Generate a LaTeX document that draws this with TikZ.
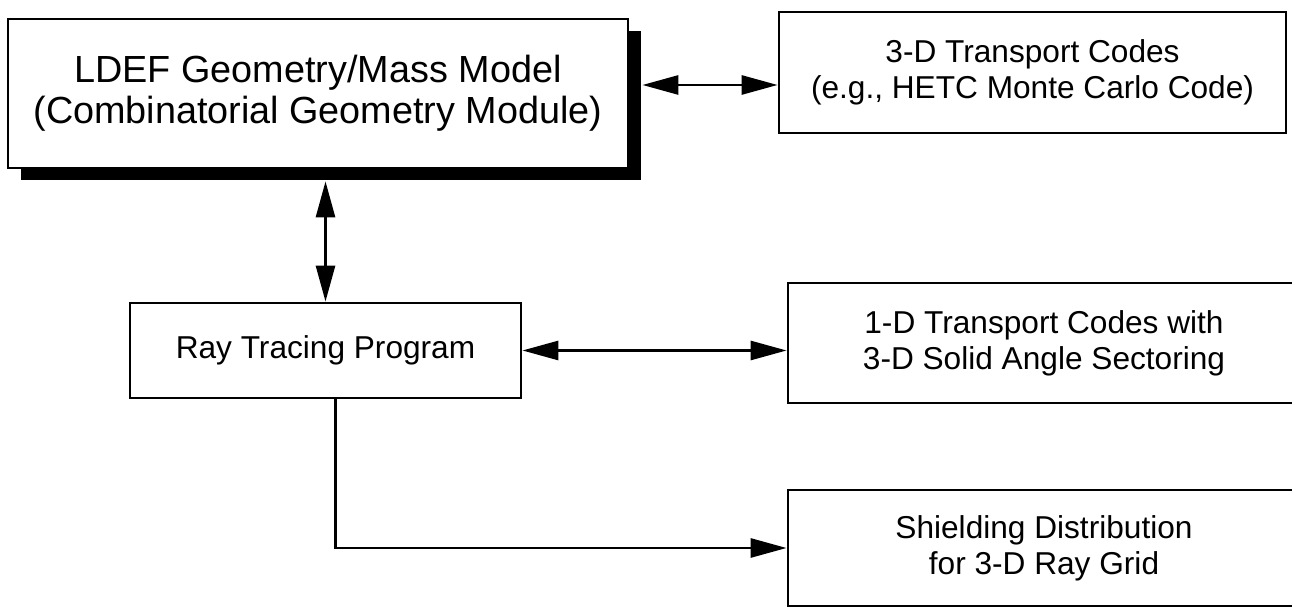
\documentclass[tikz,border=0pt]{standalone}
\usepackage{fontspec}
\setmainfont{Liberation Sans}
\usetikzlibrary{arrows.meta,shadows,positioning}

\begin{document}
\begin{tikzpicture}
    \tikzstyle{every node} = [font=\fontsize{18}{20.5}\selectfont]
    \tikzstyle{block} = [draw, rectangle, line width=1.6pt, align=center, inner sep=0pt]
    \tikzstyle{link} = [line width=1.6pt, -{Triangle[length=0.72cm,width=0.38cm]}]
    \tikzstyle{both} = [line width=1.6pt, {Triangle[length=0.72cm,width=0.38cm]}-{Triangle[length=0.72cm,width=0.38cm]}]
    \useasboundingbox (0,0) rectangle (25.84,12.28);
    % place nodes
    \node[block, minimum width=12.4cm, minimum height=2.98cm, font=\fontsize{21.5}{23.5}\selectfont, fill=white,
      drop shadow={shadow xshift=0.26cm, shadow yshift=-0.24cm, fill=black, opacity=1}](ldef) at (6.36,10.41){LDEF Geometry/Mass Model\\(Combinatorial Geometry Module)};
    \node[block, minimum width=10.14cm, minimum height=2.42cm](transport3d) at (20.65,10.83){3-D Transport Codes\\(e.g., HETC Monte Carlo Code)};
    \node[block, minimum width=7.82cm, minimum height=1.9cm](rayTracing) at (6.51,5.27){Ray Tracing Program};
    \node[block, minimum width=10.24cm, minimum height=2.4cm](oned) at (20.88,5.42){1-D Transport Codes with\\3-D Solid Angle Sectoring};
    \node[block, below of=oned, node distance=4.1cm, minimum width=10.24cm, minimum height=2.32cm](shield){Shielding Distribution\\for 3-D Ray Grid};

    % Connections
    \coordinate (ldefport) at ([shift={(0.26,0.17)}]ldef.east);
    \coordinate (ldefbase) at ([yshift=-0.24cm]ldef.south);
    \draw[both]
    (ldefport) -- (ldefport -| transport3d.west);
    \draw[both]
    (rayTracing.north) -- (rayTracing.north |- ldefbase);
    \draw[both]
    (rayTracing.east) -- (rayTracing.east -| oned.west);
    \draw[link]
    ([xshift=0.2cm]rayTracing.south) |- (shield.west);

\end{tikzpicture}
\end{document}
